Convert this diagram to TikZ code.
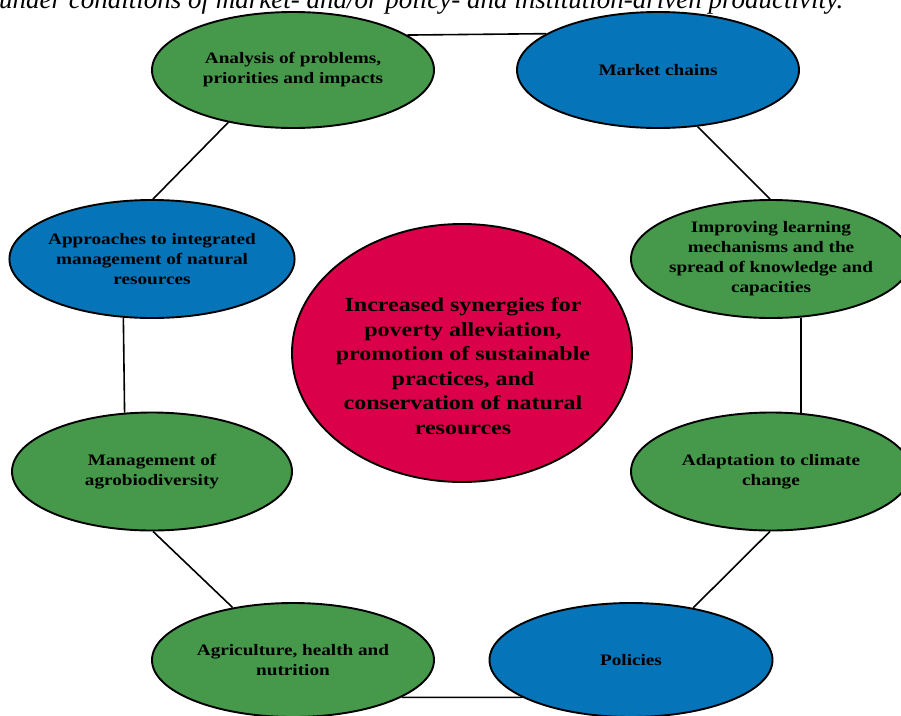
\documentclass[tikz,border=0pt]{standalone}
\usepackage{fontspec}
\usetikzlibrary{shapes.geometric}
\newfontfamily\bubblefont[FakeStretch=1.2]{Liberation Serif}
\newfontfamily\titlefont{Liberation Serif}
\definecolor{leafgreen}{HTML}{46984A}
\definecolor{seablue}{HTML}{0674B8}
\definecolor{crimsonred}{HTML}{DA0049}
\tikzset{
  bubble/.style={ellipse, draw=black, line width=1.9pt, inner sep=0pt, inner xsep=-3pt,
    minimum width=282pt, minimum height=116pt, align=center,
    font=\bubblefont\bfseries\fontsize{16}{20}\selectfont},
  greenbubble/.style={bubble, fill=leafgreen},
  bluebubble/.style={bubble, fill=seablue},
  link/.style={draw=black, line width=1.6pt},
}
\begin{document}
\begin{tikzpicture}[x=1pt, y=-1pt]
\useasboundingbox (0,0) rectangle (901,715);
\clip (0,0) rectangle (901,715);
\fill[white] (0,0) rectangle (901,715);
\node[anchor=base west, inner sep=0pt, font=\titlefont\itshape\fontsize{27}{30}\selectfont] (title) at (-1,8)
  {under conditions of market- and/or policy- and institution-driven productivity.};
\node[greenbubble] (anl) at (293,70) {Analysis of problems,\\priorities and impacts};
\node[bluebubble] (mkt) at (658,70) {Market chains};
\node[greenbubble, minimum width=280pt, minimum height=118pt] (imp) at (771,259)
  {Improving learning\\mechanisms and the\\spread of knowledge and\\capacities};
\node[greenbubble, minimum width=280pt, minimum height=118pt] (ada) at (771,471.5)
  {Adaptation to climate\\change};
\node[bluebubble, minimum width=283pt, minimum height=114pt] (pol) at (631,660) {Policies};
\node[greenbubble, minimum width=282pt, minimum height=114pt] (agr) at (293,660)
  {Agriculture, health and\\nutrition};
\node[greenbubble, minimum width=280pt, minimum height=118pt] (agb) at (152,471.5)
  {Management of\\agrobiodiversity};
\node[bluebubble, minimum width=280pt, minimum height=118pt] (app) at (152,259)
  {Approaches to integrated\\management of natural\\resources};
\node[ellipse, draw=black, line width=1.9pt, fill=crimsonred, minimum width=340pt,
  minimum height=258pt, inner sep=0pt] (ctr) at (462,353) {};
\node[align=center, inner sep=0pt, font=\bubblefont\bfseries\fontsize{20}{24.5}\selectfont]
  (ctrtext) at (463,366)
  {Increased synergies for\\poverty alleviation,\\promotion of sustainable\\practices, and\\conservation of natural\\resources};
\draw[link] (anl.17.3) -- (mkt.162.7);
\draw[link] (mkt.-55) -- (imp.91);
\draw[link] (imp.-63.3) -- (ada.63.3);
\draw[link] (ada.269) -- (pol.40.4);
\draw[link] (pol.199) -- (agr.-19);
\draw[link] (agr.139) -- (agb.271);
\draw[link] (agb.115.9) -- (app.244.1);
\draw[link] (app.89) -- (anl.219.5);
\end{tikzpicture}
\end{document}
